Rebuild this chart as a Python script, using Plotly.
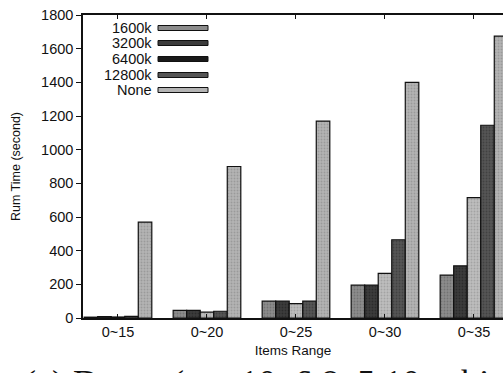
import plotly.graph_objects as go

categories = ["0~15", "0~20", "0~25", "0~30", "0~35"]
series_names = ["1600k", "3200k", "6400k", "12800k", "None"]
v_1600k = [5, 45, 100, 195, 255]
v_3200k = [8, 45, 100, 195, 310]
v_6400k = [6, 35, 85, 265, 715]
v_12800k = [10, 40, 100, 465, 1145]
v_none = [570, 900, 1170, 1400, 1675]
y_ticks = [0, 200, 400, 600, 800, 1000, 1200, 1400, 1600, 1800]

values = [v_1600k, v_3200k, v_6400k, v_12800k, v_none]
fills = ["#8c8c8c", "#3c3c3c", "#bdbdbd", "#555555", "#b4b4b4"]
dots = ["#5a5a5a", "#1a1a1a", "#8a8a8a", "#2e2e2e", "#808080"]

W, H = 503, 373
L, R, T, B = 83, 0, 15, 55

fig = go.Figure()
for name, vals, fc, dc in zip(series_names, values, fills, dots):
    fig.add_trace(go.Bar(
        x=categories, y=vals, name=name,
        marker=dict(color=fc, line=dict(color="#111111", width=1.2),
                    pattern=dict(shape=".", fgcolor=dc, bgcolor=fc, size=3, solidity=0.3)),
        showlegend=False,
    ))

def px_x(p):
    return (p - L) / (W - L - R)

def px_y(p):
    return (H - B - p) / (H - T - B)

shapes = []
annotations = []
legend_rows = [28, 43, 59, 75, 90]
for name, fc, dc, yy in zip(series_names, fills, dots, legend_rows):
    annotations.append(dict(
        x=px_x(154), y=px_y(yy), xref="paper", yref="paper",
        text=name, showarrow=False, xanchor="right", yanchor="middle",
        font=dict(family="Liberation Sans, Arial", size=14.5, color="#111111"),
    ))
    shapes.append(dict(
        type="rect", xref="paper", yref="paper",
        x0=px_x(158), x1=px_x(208), y0=px_y(yy + 2.5), y1=px_y(yy - 2.5),
        fillcolor=fc if name != "6400k" else "#1a1a1a",
        line=dict(color="#111111", width=1),
    ))

annotations.append(dict(
    x=px_x(22), y=px_y(361), xref="paper", yref="paper",
    text="(a) Dense (n = 10, 6,8, 5,10 subitems)", showarrow=False,
    xanchor="left", yanchor="top",
    font=dict(family="Liberation Serif, DejaVu Serif", size=36, color="#111111"),
))

fig.update_layout(
    width=W, height=H,
    margin=dict(l=L, r=R, t=T, b=B),
    paper_bgcolor="white", plot_bgcolor="white",
    barmode="group", bargap=0.24, bargroupgap=0.0,
    font=dict(family="Liberation Sans, Arial", size=14, color="#111111"),
    shapes=shapes, annotations=annotations,
    xaxis=dict(
        range=[-0.393, 4.326], showline=True, linecolor="#111111", linewidth=1.5,
        mirror="ticks", ticks="inside", ticklen=4, tickcolor="#111111",
        showgrid=False, zeroline=False,
        title=dict(text="Items Range", font=dict(size=13.5), standoff=6),
        tickfont=dict(size=14.5),
    ),
    yaxis=dict(
        range=[0, 1800], tickvals=y_ticks, showline=True, linecolor="#111111",
        linewidth=1.5, ticks="outside", ticklen=5, tickcolor="#111111",
        showgrid=False, zeroline=False,
        title=dict(text="Rum Time (second)", font=dict(size=12.5), standoff=18),
        tickfont=dict(size=14.5),
    ),
)

fig.write_html("out.html", config={"displayModeBar": False},
               post_script="document.body.style.margin='0';document.body.style.overflow='hidden';")
